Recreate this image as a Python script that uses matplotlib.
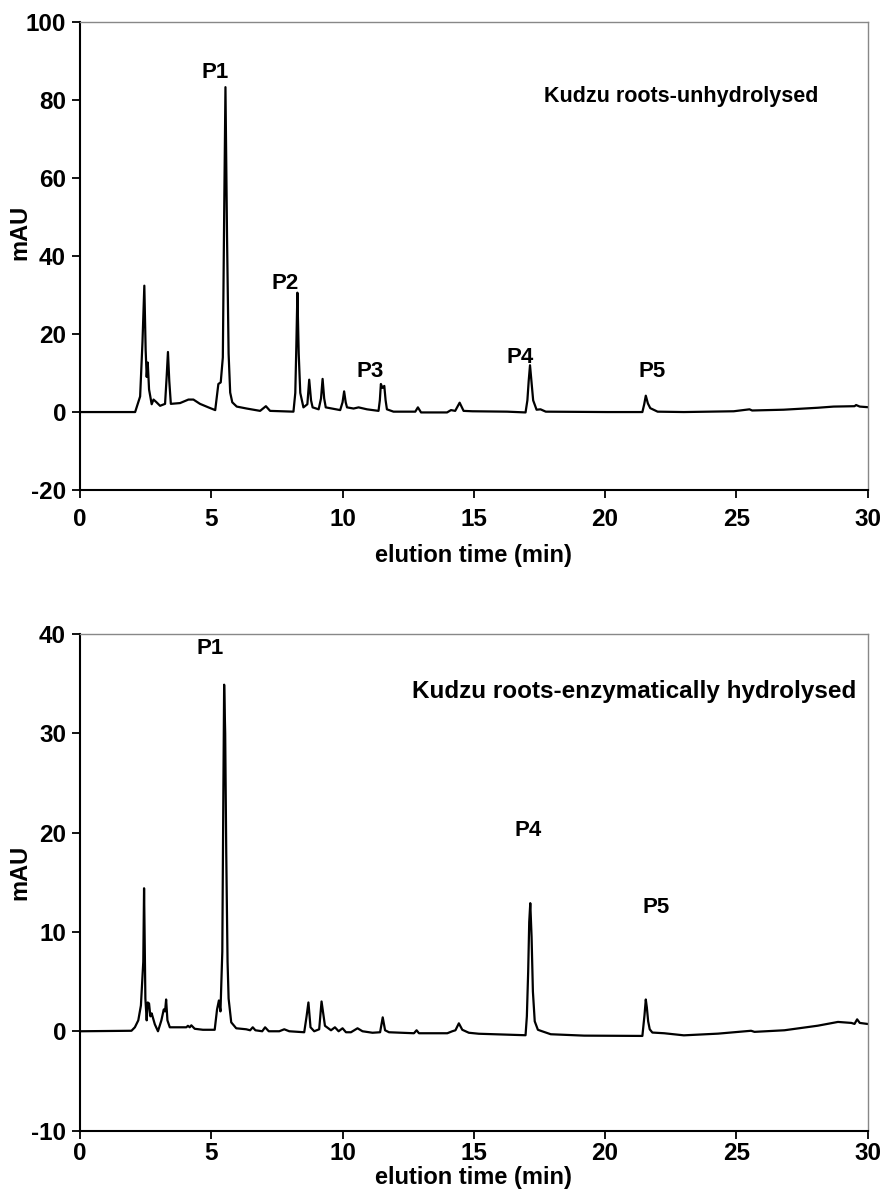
import matplotlib.pyplot as plt
from matplotlib.ticker import MultipleLocator

plt.rcParams['font.family'] = ['Liberation Sans', 'DejaVu Sans']
plt.rcParams['font.weight'] = 'bold'
plt.rcParams['axes.unicode_minus'] = False

# chromatogram 1: unhydrolysed (time in min, signal in mAU)
top_time = [0.0, 2.1, 2.29, 2.38, 2.45, 2.5, 2.54, 2.58, 2.63, 2.73, 2.8, 2.9, 3.05, 3.24,
            3.3, 3.35, 3.4, 3.46, 3.81, 4.13, 4.32, 4.57, 4.89, 5.15, 5.27, 5.36, 5.44,
            5.49, 5.54, 5.6, 5.66, 5.72, 5.8, 5.97, 6.35, 6.86, 7.08, 7.24, 8.13, 8.2,
            8.24, 8.28, 8.33, 8.39, 8.51, 8.66, 8.73, 8.8, 8.86, 9.09, 9.18, 9.24, 9.3,
            9.36, 9.91, 10.0, 10.06, 10.12, 10.17, 10.42, 10.61, 10.93, 11.37, 11.42,
            11.46, 11.52, 11.59, 11.64, 11.69, 11.94, 12.77, 12.87, 12.99, 13.98, 14.13,
            14.29, 14.46, 14.61, 14.94, 16.27, 16.97, 17.04, 17.09, 17.14, 17.2, 17.26,
            17.39, 17.54, 17.74, 20.09, 21.42, 21.49, 21.55, 21.63, 21.72, 22.0, 23.0,
            24.9, 25.5, 25.6, 26.8, 28.1, 28.7, 29.5, 29.56, 29.7, 30.1]
top_mau = [0.0, 0.0, 4.0, 18.0, 32.4, 16.0, 9.0, 12.7, 5.8, 2.0, 3.2, 2.6, 1.6, 2.1,
           9.0, 15.4, 8.0, 2.1, 2.3, 3.2, 3.2, 2.1, 1.2, 0.5, 7.2, 7.6, 14.0,
           50.0, 83.3, 45.0, 15.0, 5.0, 2.5, 1.4, 0.9, 0.3, 1.5, 0.3, 0.1, 4.9,
           17.0, 30.6, 15.0, 4.9, 1.2, 2.0, 8.3, 3.0, 1.2, 0.7, 3.5, 8.5, 3.5,
           1.2, 0.5, 2.5, 5.3, 2.5, 1.2, 0.9, 1.2, 0.7, 0.3, 3.0,
           7.2, 6.2, 6.7, 3.0, 0.7, 0.1, 0.1, 1.2, -0.1, -0.1, 0.5,
           0.3, 2.4, 0.3, 0.2, 0.1, -0.1, 3.0, 8.0, 12.0, 7.5, 3.0,
           0.6, 0.7, 0.1, 0.0, 0.0, 2.0, 4.2, 2.2, 1.0, 0.1, 0.0,
           0.2, 0.7, 0.4, 0.6, 1.1, 1.4, 1.5, 1.8, 1.4, 1.2]

# chromatogram 2: enzymatically hydrolysed
bot_time = [0.0, 1.96, 2.09, 2.22, 2.32, 2.41, 2.44, 2.49, 2.54, 2.58, 2.63, 2.68, 2.73,
            2.85, 2.97, 3.1, 3.19, 3.24, 3.28, 3.33, 3.42, 3.67, 4.05, 4.11, 4.18, 4.24,
            4.37, 4.68, 5.13, 5.22, 5.29, 5.35, 5.42, 5.46, 5.49, 5.53, 5.57, 5.62, 5.66,
            5.76, 5.95, 6.33, 6.48, 6.58, 6.68, 6.94, 7.05, 7.19, 7.59, 7.78, 7.97, 8.54,
            8.63, 8.7, 8.78, 8.92, 9.11, 9.2, 9.33, 9.56, 9.71, 9.85, 10.0, 10.13, 10.32,
            10.57, 10.76, 11.14, 11.43, 11.53, 11.62, 11.77, 12.72, 12.82, 12.91, 13.99,
            14.18, 14.3, 14.43, 14.56, 14.81, 15.19, 16.97, 17.02, 17.07, 17.11, 17.15,
            17.2, 17.25, 17.32, 17.44, 17.6, 17.93, 19.2, 21.42, 21.5, 21.55, 21.59,
            21.64, 21.7, 21.8, 22.25, 23.0, 24.3, 25.56, 25.69, 26.83, 28.1, 28.87,
            29.38, 29.5, 29.6, 29.7, 30.1]
bot_mau = [0.0, 0.05, 0.4, 1.1, 2.6, 7.0, 14.4, 3.3, 1.1, 2.9, 2.8, 1.5, 1.8,
           0.7, 0.0, 1.1, 2.2, 2.0, 3.2, 1.1, 0.4, 0.4, 0.4, 0.55, 0.4, 0.6,
           0.25, 0.15, 0.15, 2.2, 3.1, 2.0, 8.0, 24.0, 34.9, 30.0, 18.0, 7.0, 3.3,
           0.9, 0.3, 0.2, 0.1, 0.4, 0.1, 0.0, 0.4, 0.0, 0.0, 0.2, 0.0, -0.1,
           1.5, 2.9, 0.4, 0.0, 0.2, 3.0, 0.55, 0.1, 0.4, 0.0, 0.3, -0.1, -0.1,
           0.3, 0.0, -0.15, -0.1, 1.4, 0.1, -0.1, -0.2, 0.1, -0.2, -0.2,
           0.0, 0.1, 0.8, 0.15, -0.15, -0.25, -0.4, 1.5, 6.0, 11.0, 12.9,
           9.5, 4.0, 1.0, 0.15, 0.0, -0.3, -0.44, -0.47, 1.6, 3.2, 2.4,
           1.0, 0.2, -0.13, -0.2, -0.41, -0.24, 0.05, -0.06, 0.1, 0.56, 0.94,
           0.84, 0.74, 1.2, 0.84, 0.7]

top_peaks = ['P1', 'P2', 'P3', 'P4', 'P5']
top_peak_t = [5.15, 7.8, 11.05, 16.75, 21.8]
top_peak_v = [87, 33, 10.3, 14, 10.3]

bot_peaks = ['P1', 'P4', 'P5']
bot_peak_t = [4.95, 17.05, 21.95]
bot_peak_v = [38.5, 20.2, 12.5]

fig = plt.figure(figsize=(8.84, 11.97), dpi=100)
ax1 = fig.add_axes([0.0905, 0.5906, 0.891, 0.391])
ax2 = fig.add_axes([0.0905, 0.0555, 0.891, 0.4148])


def style(ax, ymin, ymax, ystep, xpad, labelpad):
    ax.set_xlim(0, 30)
    ax.set_ylim(ymin, ymax)
    ax.xaxis.set_major_locator(MultipleLocator(5))
    ax.yaxis.set_major_locator(MultipleLocator(ystep))
    ax.tick_params(direction='out', length=6, width=1.3, labelsize=17.5, pad=4)
    ax.tick_params(axis='x', pad=xpad)
    for lab in ax.get_xticklabels() + ax.get_yticklabels():
        lab.set_fontweight('bold')
    ax.spines['left'].set_linewidth(1.5)
    ax.spines['bottom'].set_linewidth(1.5)
    ax.spines['top'].set_color('#888888')
    ax.spines['right'].set_color('#888888')
    ax.spines['top'].set_linewidth(1.0)
    ax.spines['right'].set_linewidth(1.0)
    ax.set_xlabel('elution time (min)', fontsize=17, fontweight='bold',
                  labelpad=labelpad)
    ax.set_ylabel('mAU', fontsize=17, fontweight='bold')


ax1.plot(top_time, top_mau, color='black', lw=1.6)
style(ax1, -20, 100, 20, 7, 9)
ax1.yaxis.set_label_coords(-0.062, 0.55)
for name, t, v in zip(top_peaks, top_peak_t, top_peak_v):
    ax1.text(t, v, name, fontsize=16, fontweight='bold', ha='center', va='center')
ax1.text(22.9, 81, 'Kudzu roots-unhydrolysed', fontsize=15.5, fontweight='bold',
         ha='center', va='center')

ax2.plot(bot_time, bot_mau, color='black', lw=1.6)
style(ax2, -10, 40, 10, 2, 1)
ax2.yaxis.set_label_coords(-0.062, 0.52)
for name, t, v in zip(bot_peaks, bot_peak_t, bot_peak_v):
    ax2.text(t, v, name, fontsize=16, fontweight='bold', ha='center', va='center')
ax2.text(21.1, 34.2, 'Kudzu roots-enzymatically hydrolysed', fontsize=17.5,
         fontweight='bold', ha='center', va='center')

fig.savefig('out.png', dpi=100)
